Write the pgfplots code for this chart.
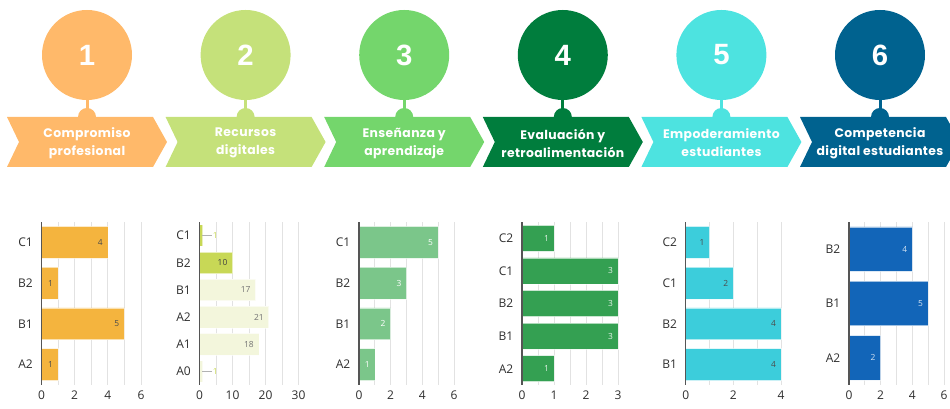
\documentclass[border=0pt]{standalone}
\usepackage{fontspec}
\setmainfont{Open Sans}
\newfontfamily\headfont{Poppins}[LetterSpace=3]
\newfontfamily\numfont{Liberation Sans}
\usepackage{pgfplots}
\pgfplotsset{compat=1.18}

\definecolor{h1}{HTML}{FFB96A}
\definecolor{h2}{HTML}{C5E17A}
\definecolor{h3}{HTML}{74D66C}
\definecolor{h4}{HTML}{007D3D}
\definecolor{h5}{HTML}{4DE3E0}
\definecolor{h6}{HTML}{00628F}
\definecolor{b1}{HTML}{F4B43E}
\definecolor{b2}{HTML}{C8D856}
\definecolor{b2f}{HTML}{F3F6DC}
\definecolor{b3}{HTML}{7BC68A}
\definecolor{b4}{HTML}{34A052}
\definecolor{b5}{HTML}{3CCDDB}
\definecolor{b6}{HTML}{1265B8}
\definecolor{gridc}{HTML}{E2E2E2}
\definecolor{tickc}{HTML}{2E2E2E}
\definecolor{axisc}{HTML}{555555}

\pgfplotsset{
  mybar/.style={
    xbar, bar shift=0pt, bar width=0.8,
    scale only axis, anchor=south west,
    height=122.25pt, xmin=0, ymin=-0.5,
    axis x line*=bottom, axis y line*=left,
    axis line style={draw=none},
    major tick length=0pt, minor tick length=0pt,
    xmajorgrids, xminorgrids, minor x tick num=1,
    grid style={draw=gridc, line width=0.75pt},
    minor grid style={draw=gridc, line width=0.75pt},
    tick label style={font=\fontsize{9}{10}\selectfont, text=tickc},
    yticklabel style={xshift=-3pt},
    xticklabel style={yshift=-1pt},
    /pgf/number format/assume math mode=true,
    clip=false,
    every node near coord/.append style={anchor=east, xshift=-0.3pt,
      font=\fontsize{6.3}{7}\selectfont},
  },
  barst/.style={fill=#1, draw=white, draw opacity=0.6, line width=0.5pt},
}

\newcommand{\yaxisline}{\draw[axisc, line width=0.8pt] (rel axis cs:0,0) -- (rel axis cs:0,1);}

\newcommand{\header}[5]{%
  \fill[#2] (#1+80,354) circle (45);
  \fill[#2] (#1+78.5,292) rectangle (#1+81.5,309);
  \fill[#2] (#1+80,292) circle (9);
  \fill[#2] (#1,292) -- (#1+146,292) -- (#1+160,267) -- (#1+146,242) -- (#1,242) -- (#1+12,267) -- cycle;
  \node[text=white, font=\numfont\bfseries\fontsize{22}{24}\selectfont] at (#1+80,354) {#3};
  \node[text=white, align=center, font=\headfont\bfseries\fontsize{9.3}{13.5}\selectfont] at (#1+80,266) {#4\\#5};
}

\begin{document}
\begin{tikzpicture}[x=0.75pt,y=0.75pt]
\clip (0,0) rectangle (950,409);
\header{7}{h1}{1}{Compromiso}{profesional}
\header{165.6}{h2}{2}{Recursos}{digitales}
\header{324.2}{h3}{3}{Enseñanza y}{aprendizaje}
\header{482.8}{h4}{4}{Evaluación y}{retroalimentación}
\header{641.4}{h5}{5}{Empoderamiento}{estudiantes}
\header{800}{h6}{6}{Competencia}{digital estudiantes}

% Chart 1
\begin{axis}[mybar, at={(31.125pt,18pt)}, width=74.625pt,
  xmax=6, xtick={0,2,4,6}, ymax=3.5, ytick={0,1,2,3}, yticklabels={A2,B1,B2,C1},
  bar width=0.78]
\addplot[barst=b1, nodes near coords, every node near coord/.append style={text=black!70}]
  coordinates {(1,0) (5,1) (1,2) (4,3)};
\yaxisline
\end{axis}

% Chart 2
\begin{axis}[mybar, at={(149.625pt,18pt)}, width=74.25pt,
  xmax=30, xtick={0,10,20,30}, ymax=5.5, ytick={0,1,2,3,4,5},
  yticklabels={A0,A1,A2,B1,B2,C1}]
\addplot[barst=b2f] coordinates {(1,0)};
\addplot[barst=b2f, nodes near coords, every node near coord/.append style={text=black!55}]
  coordinates {(18,1) (21,2) (17,3)};
\addplot[barst=b2, nodes near coords, every node near coord/.append style={text=black!75}]
  coordinates {(10,4)};
\addplot[barst=b2] coordinates {(1,5)};
\draw[black!30, line width=0.5pt] (axis cs:0.8,5) -- (axis cs:3.8,5);
\node[anchor=west, inner sep=0.5pt, text=b2, font=\fontsize{6.3}{7}\selectfont] at (axis cs:3.8,5) {1};
\draw[black!30, line width=0.5pt] (axis cs:0.8,0) -- (axis cs:3.8,0);
\node[anchor=west, inner sep=0.5pt, text=b2, font=\fontsize{6.3}{7}\selectfont] at (axis cs:3.8,0) {1};
\yaxisline
\end{axis}

% Chart 3
\begin{axis}[mybar, at={(269.25pt,18pt)}, width=71.25pt,
  xmax=6, xtick={0,2,4,6}, ymax=3.5, ytick={0,1,2,3}, yticklabels={A2,B1,B2,C1},
  bar width=0.78]
\addplot[barst=b3, nodes near coords, every node near coord/.append style={text=white}]
  coordinates {(1,0) (2,1) (3,2) (5,3)};
\yaxisline
\end{axis}

% Chart 4
\begin{axis}[mybar, at={(391.5pt,18pt)}, width=72pt,
  xmax=3, xtick={0,1,2,3}, ymax=4.5, ytick={0,1,2,3,4}, yticklabels={A2,B1,B2,C1,C2}]
\addplot[barst=b4, nodes near coords, every node near coord/.append style={text=white!85!b4}]
  coordinates {(1,0) (3,1) (3,2) (3,3) (1,4)};
\yaxisline
\end{axis}

% Chart 5
\begin{axis}[mybar, at={(514.3pt,18pt)}, width=71.5pt,
  xmax=4, xtick={0,2,4}, ymax=3.5, ytick={0,1,2,3}, yticklabels={B1,B2,C1,C2},
  bar width=0.78]
\addplot[barst=b5, nodes near coords, every node near coord/.append style={text=black!70}]
  coordinates {(4,0) (4,1) (2,2) (1,3)};
\yaxisline
\end{axis}

% Chart 6
\begin{axis}[mybar, at={(636.75pt,18pt)}, width=71.25pt,
  xmax=6, xtick={0,2,4,6}, ymax=2.5, ytick={0,1,2}, yticklabels={A2,B1,B2},
  bar width=0.82]
\addplot[barst=b6, nodes near coords, every node near coord/.append style={text=white!80!b6}]
  coordinates {(2,0) (5,1) (4,2)};
\yaxisline
\end{axis}
\end{tikzpicture}
\end{document}
